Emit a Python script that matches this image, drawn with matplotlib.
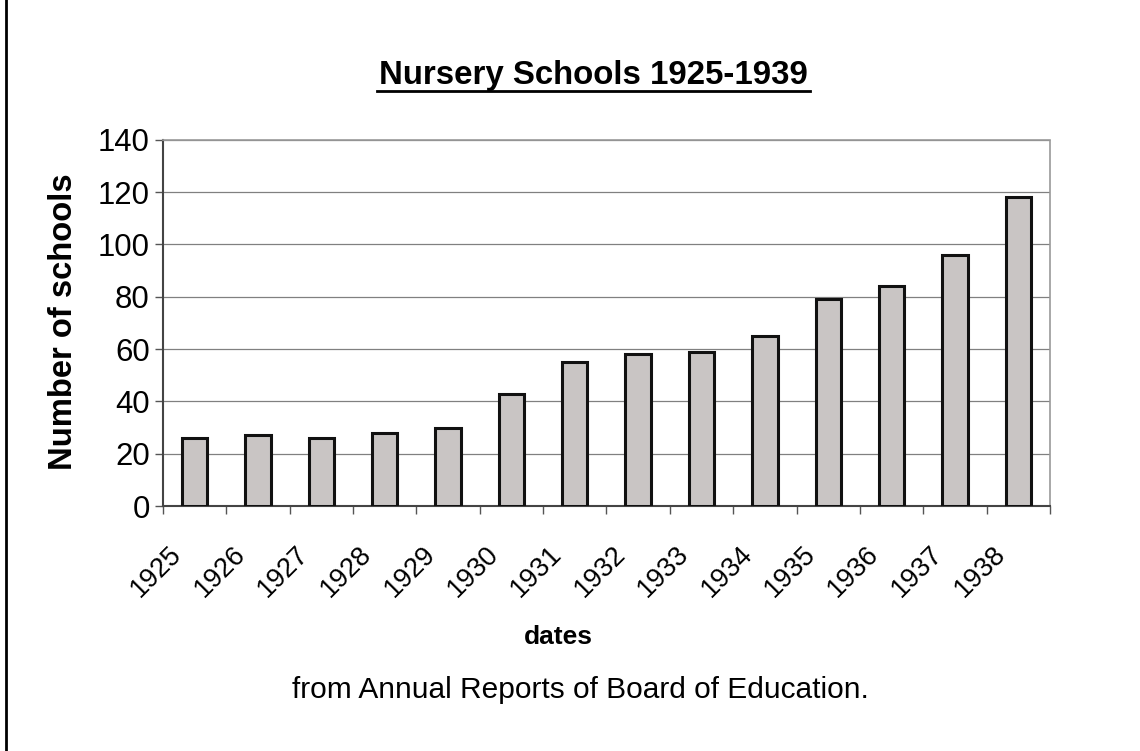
import matplotlib.pyplot as plt
from matplotlib.lines import Line2D
import numpy as np

plt.rcParams['font.family'] = ['Liberation Sans', 'DejaVu Sans']

years = ['1925', '1926', '1927', '1928', '1929', '1930', '1931',
         '1932', '1933', '1934', '1935', '1936', '1937', '1938']
schools = [26, 27, 26, 28, 30, 43, 55, 58, 59, 65, 79, 84, 96, 118]

fig = plt.figure(figsize=(11.4, 7.51), dpi=100)
ax = fig.add_axes([0.143, 0.326, 0.778, 0.488])

x = np.arange(len(years))
ax.bar(x, schools, width=0.4, color='#c9c5c4', edgecolor='#111111', linewidth=2.2, zorder=3)

ax.set_yticks(np.arange(0, 141, 20))
ax.yaxis.grid(True, color='#808080', linewidth=0.9, zorder=0)

# ticks sit on the category boundaries
ax.set_xticks(np.arange(len(years) + 1) - 0.5)
ax.set_xticklabels([])
ax.tick_params(axis='x', which='major', length=5.5, width=1, color='#555555', direction='out')
ax.tick_params(axis='y', length=5.5, width=1, color='#555555', labelsize=22.4, pad=4)

ax.set_xlim(-0.5, len(years) - 0.5)
ax.set_ylim(0, 140)

# year labels, slanted, just left of each boundary tick
for xi, yr in zip(x, years):
    ax.annotate(yr, xy=(xi - 0.6, 0), xycoords=('data', 'axes fraction'),
                xytext=(0, -25), textcoords='offset points',
                rotation=45, ha='center', va='top', fontsize=19.5,
                annotation_clip=False)

for s in ['top', 'right']:
    ax.spines[s].set_color('#999999')
    ax.spines[s].set_linestyle((0, (1, 1)))
    ax.spines[s].set_linewidth(1.2)
for s in ['left', 'bottom']:
    ax.spines[s].set_color('#444444')
    ax.spines[s].set_linewidth(1.5)

fig.text(0.0555, 0.571, 'Number of schools', rotation=90, ha='center', va='center',
         fontsize=23.6, fontweight='bold')

fig.text(0.5206, 0.8875, 'Nursery Schools 1925-1939', ha='center', va='baseline',
         fontsize=23.8, fontweight='bold')
# underline under title
fig.add_artist(Line2D([0.331, 0.7105], [0.879, 0.879], color='black', linewidth=2))

fig.text(0.490, 0.152, 'dates', ha='center', va='center', fontsize=19, fontweight='bold')
fig.text(0.509, 0.081, 'from Annual Reports of Board of Education.', ha='center', va='center',
         fontsize=21.5)

# scan border line at left
fig.add_artist(Line2D([0.005, 0.005], [0.0, 1.0], color='black', linewidth=2))

fig.savefig('out.png', dpi=100)
